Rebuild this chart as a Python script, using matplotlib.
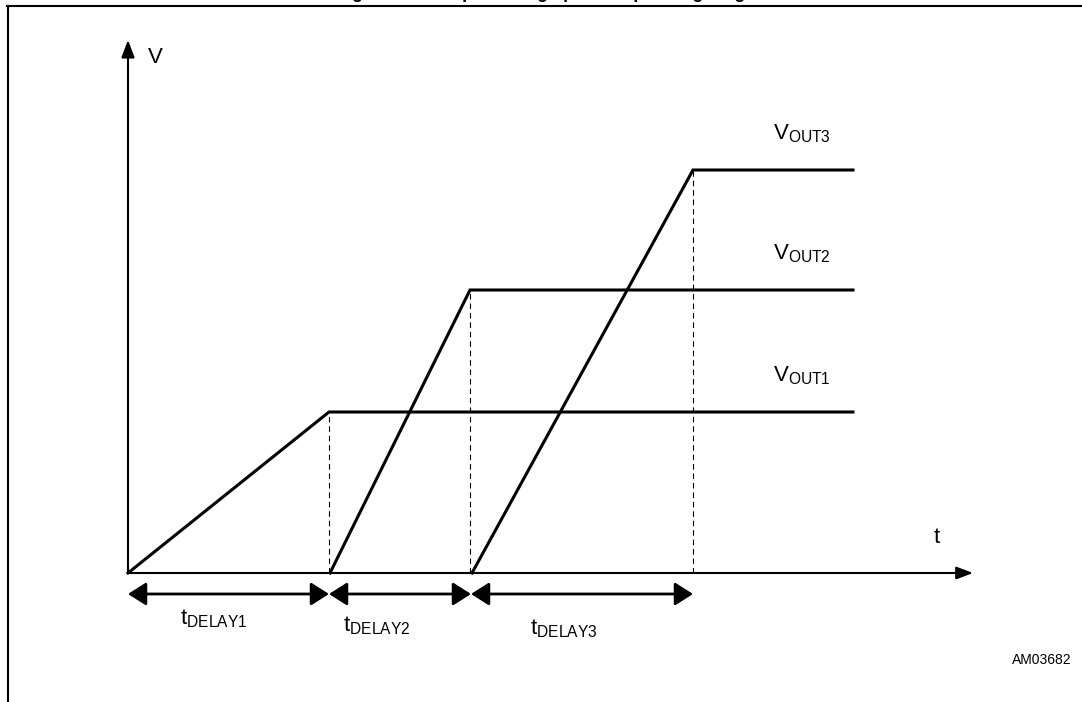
import matplotlib
matplotlib.use('Agg')
import matplotlib.pyplot as plt
from matplotlib.lines import Line2D

plt.rcParams['font.family'] = 'Liberation Sans'
plt.rcParams['mathtext.fontset'] = 'custom'
plt.rcParams['mathtext.rm'] = 'Liberation Sans'
plt.rcParams['mathtext.it'] = 'Liberation Sans'

# timing data (arbitrary units, origin at t=0, V=0)
ramp_start = [0.0, 20.2, 34.4]
ramp_end = [20.1, 34.2, 56.5]
v_levels = [16.1, 28.3, 40.3]
t_stop = 72.5
out_labels = ['OUT1', 'OUT2', 'OUT3']

delay_edges = [0.0, 20.1, 34.3, 56.5]
delay_labels = ['DELAY1', 'DELAY2', 'DELAY3']

t_axis_end = 84.5
v_axis_end = 53.3

fig = plt.figure(figsize=(10.82, 7.02), dpi=100)
ax = fig.add_axes([0, 0, 1, 1])
ax.set_xlim(-12.8, 95.4)
ax.set_ylim(-12.9, 57.3)
ax.axis('off')

# frame and clipped caption at top
fig.add_artist(Line2D([7 / 1082, 1], [1 - 6 / 702, 1 - 6 / 702], color='black', lw=1.5,
                      transform=fig.transFigure))
fig.add_artist(Line2D([7.5 / 1082, 7.5 / 1082], [0, 1 - 6 / 702], color='black', lw=1.5,
                      transform=fig.transFigure))
fig.text(0.515, 1 + 1.5 / 702, 'Figure 4.    Output voltage power-up timing diagram',
         ha='center', va='baseline', fontsize=13, fontweight='bold')

# axes with arrow heads
ax.annotate('', xy=(t_axis_end, 0), xytext=(0, 0),
            arrowprops=dict(arrowstyle='-|>,head_length=1.0,head_width=0.38', lw=1.5,
                            color='black', shrinkA=0, shrinkB=0, mutation_scale=10))
ax.annotate('', xy=(0, v_axis_end), xytext=(0, 0),
            arrowprops=dict(arrowstyle='-|>,head_length=1.05,head_width=0.4', lw=1.5,
                            color='black', shrinkA=0, shrinkB=0, mutation_scale=10))
ax.text(2.0, 51.0, 'V', fontsize=16, ha='left', va='baseline')
ax.text(80.9, 3.0, 't', fontsize=16, ha='center', va='baseline')

# output ramps, plateaus and dashed markers
for ts, te, v, lab in zip(ramp_start, ramp_end, v_levels, out_labels):
    ax.plot([ts, te, t_stop], [0, v, v], color='black', lw=2.2, solid_joinstyle='miter')
    ax.plot([te, te], [0, v], color='black', lw=0.8, linestyle=(0, (5, 3.5)))
    ax.text(64.5, v + 3.1, r'V$_{\mathregular{' + lab + '}}$', fontsize=16,
            ha='left', va='baseline')

# delay dimension arrows
label_x = [5.2, 21.5, 40.2]
label_y = [-5.1, -5.8, -6.1]
for i, lab in enumerate(delay_labels):
    ax.annotate('', xy=(delay_edges[i + 1], -2.1), xytext=(delay_edges[i], -2.1),
                arrowprops=dict(arrowstyle='<|-|>,head_length=1.1,head_width=0.7', lw=2.0,
                                color='black', shrinkA=0, shrinkB=0, mutation_scale=10))
    ax.text(label_x[i], label_y[i], r't$_{\mathregular{' + lab + '}}$', fontsize=16,
            ha='left', va='baseline')

fig.text(1072 / 1082, 1 - 664 / 702, 'AM03682', fontsize=10, ha='right', va='baseline')

fig.savefig('out.png', dpi=100)
